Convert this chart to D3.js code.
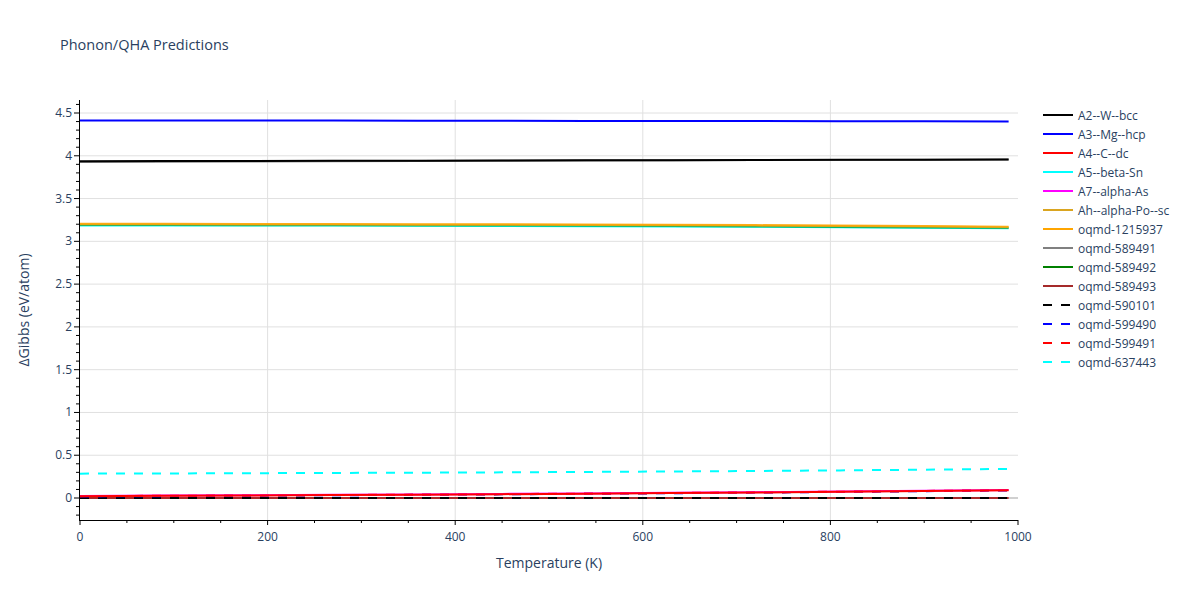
<!DOCTYPE html>
<html><head><meta charset="utf-8">
<script src="https://cdn.jsdelivr.net/npm/d3@7/dist/d3.min.js"></script>
<style>body{margin:0;background:#fff;} text{font-family:"Open Sans","DejaVu Sans",sans-serif;}</style>
</head><body><svg id="c" width="1200" height="600"></svg>
<script>
const temps = [0,90,180,270,360,450,540,630,720,810,900,990];
const seriesNames = ["A2--W--bcc","A3--Mg--hcp","A4--C--dc","A5--beta-Sn","A7--alpha-As","Ah--alpha-Po--sc","oqmd-1215937","oqmd-589491","oqmd-589492","oqmd-589493","oqmd-590101","oqmd-599490","oqmd-599491","oqmd-637443"];
const seriesColors = ["black","blue","red","cyan","magenta","goldenrod","orange","gray","green","brown","black","blue","red","cyan"];
const seriesDashed = [false,false,false,false,false,false,false,false,false,false,true,true,true,true];
const A2_W_bcc       = [3.937,3.938,3.940,3.941,3.943,3.945,3.947,3.949,3.951,3.953,3.955,3.957];
const A3_Mg_hcp      = [4.412,4.412,4.411,4.411,4.410,4.409,4.408,4.407,4.406,4.405,4.403,4.402];
const A4_C_dc        = [0.021,0.025,0.029,0.034,0.039,0.045,0.051,0.058,0.065,0.073,0.082,0.091];
const A5_beta_Sn     = [3.186,3.186,3.185,3.184,3.182,3.180,3.177,3.174,3.170,3.165,3.159,3.152];
const A7_alpha_As    = [0.024,0.028,0.032,0.037,0.042,0.048,0.054,0.061,0.068,0.076,0.085,0.094];
const Ah_alpha_Po_sc = [3.199,3.199,3.198,3.197,3.195,3.193,3.191,3.188,3.184,3.179,3.173,3.166];
const oqmd_1215937   = [3.205,3.205,3.204,3.203,3.201,3.199,3.197,3.194,3.190,3.185,3.179,3.172];
const oqmd_589491    = [3.928,3.931,3.934,3.937,3.940,3.942,3.945,3.947,3.950,3.952,3.954,3.956];
const oqmd_589492    = [3.190,3.190,3.189,3.188,3.186,3.184,3.181,3.178,3.174,3.169,3.162,3.155];
const oqmd_589493    = [0,0,0,0,0,0,0,0,0,0,0,0];
const oqmd_590101    = [0,0,0,0,0,0,0,0,0,0,0,0];
const oqmd_599490    = [0.018,0.022,0.027,0.032,0.037,0.043,0.049,0.056,0.063,0.071,0.080,0.089];
const oqmd_599491    = [0.022,0.026,0.030,0.035,0.040,0.046,0.052,0.059,0.066,0.074,0.083,0.092];
const oqmd_637443    = [0.285,0.287,0.290,0.293,0.296,0.300,0.305,0.310,0.316,0.323,0.331,0.340];
const seriesValues = [A2_W_bcc,A3_Mg_hcp,A4_C_dc,A5_beta_Sn,A7_alpha_As,Ah_alpha_Po_sc,oqmd_1215937,oqmd_589491,oqmd_589492,oqmd_589493,oqmd_590101,oqmd_599490,oqmd_599491,oqmd_637443];
const drawOrder = [7,9,10,11,12,4,3,8,5,6,13,0,1,2];
const xTicks = [0,200,400,600,800,1000];
const yTicks = [0,0.5,1,1.5,2,2.5,3,3.5,4,4.5];

const svg = d3.select("#c");
const L=80, R=1018, T=100, B=520;
const x = d3.scaleLinear().domain([0,1000]).range([L,R]);
const y = d3.scaleLinear().domain([-0.257,4.652]).range([B,T]);
const txt = "#2a3f5f";

// grid
const g = svg.append("g");
g.selectAll(".gx").data(xTicks.filter(v=>v>0&&v<1000)).enter().append("line")
  .attr("x1",d=>x(d)).attr("x2",d=>x(d)).attr("y1",T).attr("y2",B).attr("stroke","#e0e0e0").attr("stroke-width",1);
g.selectAll(".gy").data(yTicks.filter(v=>v!==0)).enter().append("line")
  .attr("x1",L).attr("x2",R).attr("y1",d=>y(d)).attr("y2",d=>y(d)).attr("stroke","#e0e0e0").attr("stroke-width",1);
g.append("line").attr("x1",L).attr("x2",R).attr("y1",y(0)).attr("y2",y(0)).attr("stroke","#d0d0d0").attr("stroke-width",2);

// lines
const line = d3.line().x((d,i)=>x(temps[i])).y(d=>y(d));
svg.append("clipPath").attr("id","clp").append("rect").attr("x",L).attr("y",T).attr("width",R-L).attr("height",B-T);
const lg = svg.append("g").attr("clip-path","url(#clp)");
drawOrder.forEach(k=>{
  lg.append("path").attr("d",line(seriesValues[k])).attr("fill","none")
    .attr("stroke",seriesColors[k]).attr("stroke-width",2)
    .attr("stroke-opacity",k===8?0.55:(k===5||k===6?0.85:1))
    .attr("stroke-dasharray",seriesDashed[k]?"9,9":null);
});

// axes
const xMinor = d3.range(0,1001,50);
const yMinor = d3.range(-2,47).map(v=>v/10);
const ax = svg.append("g");
ax.selectAll(".mx").data(xMinor).enter().append("line")
  .attr("x1",d=>x(d)).attr("x2",d=>x(d)).attr("y1",B).attr("y2",d=>xTicks.includes(d)?B+5:B+3).attr("stroke","#000");
ax.selectAll(".my").data(yMinor).enter().append("line")
  .attr("y1",d=>y(d)).attr("y2",d=>y(d)).attr("x1",L-1).attr("x2",d=>Math.abs(d*2-Math.round(d*2))<1e-6?L-6:L-4).attr("stroke","#000");
ax.append("line").attr("x1",L-1).attr("x2",R).attr("y1",B+0.5).attr("y2",B+0.5).attr("stroke","#000");
ax.append("line").attr("x1",L-0.5).attr("x2",L-0.5).attr("y1",T).attr("y2",B+1).attr("stroke","#000");
ax.selectAll(".lx").data(xTicks).enter().append("text")
  .attr("x",d=>x(d)).attr("y",B+21).attr("text-anchor","middle").attr("font-size",12).attr("fill",txt).text(d=>d);
ax.selectAll(".ly").data(yTicks).enter().append("text")
  .attr("x",L-8).attr("y",d=>y(d)+4).attr("text-anchor","end").attr("font-size",12).attr("fill",txt).text(d=>d);

// titles
svg.append("text").attr("x",60).attr("y",50).attr("font-size",14.5).attr("fill",txt).text("Phonon/QHA Predictions");
svg.append("text").attr("x",(L+R)/2).attr("y",568).attr("text-anchor","middle").attr("font-size",14).attr("fill",txt).text("Temperature (K)");
svg.append("text").attr("transform","translate(29,"+((T+B)/2)+") rotate(-90)").attr("text-anchor","middle").attr("font-size",14).attr("fill",txt).text("ΔGibbs (eV/atom)");

// legend
const leg = svg.append("g");
seriesNames.forEach((n,k)=>{
  const yy = 115 + k*19;
  leg.append("line").attr("x1",1043).attr("x2",1073).attr("y1",yy).attr("y2",yy)
    .attr("stroke",seriesColors[k]).attr("stroke-width",2).attr("stroke-dasharray",seriesDashed[k]?"9,9":null);
  leg.append("text").attr("x",1078).attr("y",yy+4.5).attr("font-size",12).attr("fill",txt).text(n);
});
</script></body></html>
